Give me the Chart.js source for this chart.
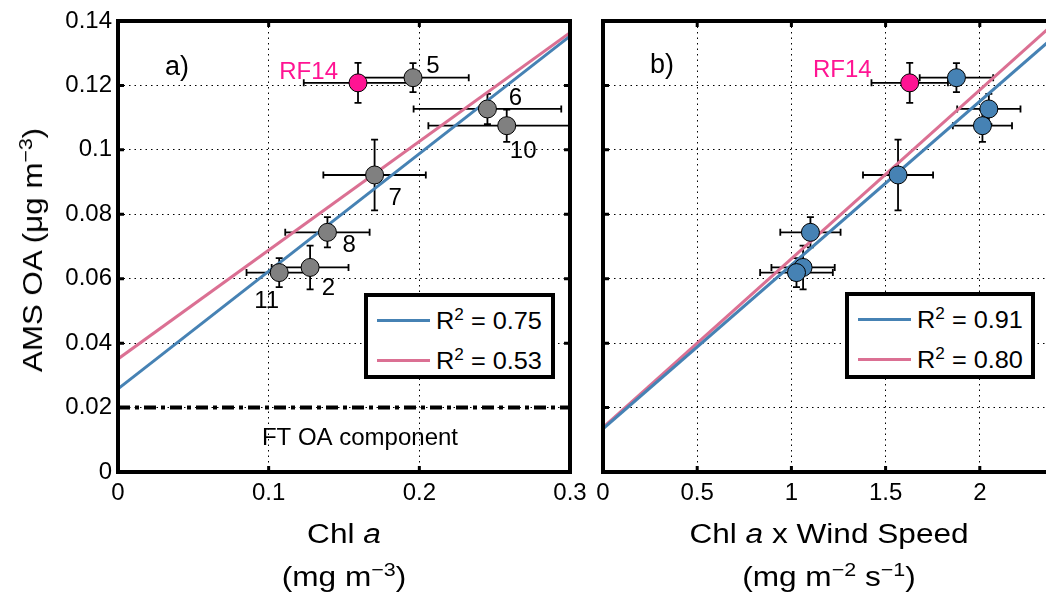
<!DOCTYPE html>
<html>
<head>
<meta charset="utf-8">
<script src="https://cdn.jsdelivr.net/npm/chart.js@4.4.1/dist/chart.umd.min.js"></script>
<style>
  body { margin: 0; background: #fff; }
  #wrap { position: relative; width: 1046px; height: 596px; overflow: hidden; background: #fff;
          font-family: 'Liberation Sans', Arial, sans-serif; color: #000; }
  canvas { position: absolute; top: 0; }
  #chartA { left: 0; }
  #chartB { left: 580px; }
  .title { position: absolute; font-size: 27px; line-height: 28px; white-space: nowrap;
           transform: translate(-50%, 0) scaleX(1.17); }
  .ytitle { position: absolute; left: 33px; top: 250px; font-size: 27px; line-height: 28px; white-space: nowrap;
            transform: translate(-50%, -50%) rotate(-90deg) scaleX(1.16); }
  sup { font-size: 0.68em; vertical-align: 0.55em; line-height: 0; }
  .panel { position: absolute; font-size: 27px; line-height: 30px; transform: translate(-50%, -50%); }
  .legend { position: absolute; background: #fff; border: 4px solid #000; box-sizing: border-box; }
  .row { position: absolute; left: 0; height: 32px; width: 100%; }
  .sw { position: absolute; left: 9px; top: 14px; width: 53px; height: 3px; }
  .lt { position: absolute; left: 68px; top: 2px; font-size: 23px; line-height: 28px; white-space: nowrap;
        transform-origin: left center; transform: scaleX(1.1); }
</style>
</head>
<body>
<div id="wrap">
  <canvas id="chartA" width="600" height="596"></canvas>
  <canvas id="chartB" width="520" height="596"></canvas>

  <div class="ytitle">AMS OA (μg m<sup>−3</sup>)</div>
  <div class="title" style="left:344px; top:520px">Chl <i>a</i></div>
  <div class="title" style="left:344px; top:563px">(mg m<sup>−3</sup>)</div>
  <div class="title" style="left:829px; top:520px">Chl <i>a</i> x Wind Speed</div>
  <div class="title" style="left:829px; top:563px">(mg m<sup>−2</sup> s<sup>−1</sup>)</div>

  <div class="panel" style="left:177px; top:66px">a)</div>
  <div class="panel" style="left:662px; top:64px">b)</div>

  <div class="legend" style="left:364px; top:293px; width:191px; height:86px">
    <div class="row" style="top:8px"><span class="sw" style="background:#4682b4"></span><span class="lt">R<sup>2</sup> = 0.75</span></div>
    <div class="row" style="top:48px"><span class="sw" style="background:#db7093"></span><span class="lt">R<sup>2</sup> = 0.53</span></div>
  </div>
  <div class="legend" style="left:845px; top:292px; width:190px; height:87px">
    <div class="row" style="top:8px"><span class="sw" style="background:#4682b4"></span><span class="lt">R<sup>2</sup> = 0.91</span></div>
    <div class="row" style="top:48px"><span class="sw" style="background:#db7093"></span><span class="lt">R<sup>2</sup> = 0.80</span></div>
  </div>
</div>

<script>
// flights (research flight numbers) and their values
const flights = ['5', '6', '10', '7', '8', '2', '11'];
const chlA = [0.1958, 0.2452, 0.2580, 0.1703, 0.1390, 0.1275, 0.1070];
const chlAErr = [0.037, 0.049, 0.052, 0.034, 0.028, 0.0255, 0.0217];
const chlWind = [1.876, 2.048, 2.014, 1.566, 1.101, 1.062, 1.027];
const chlWindErr = [0.195, 0.168, 0.157, 0.186, 0.160, 0.168, 0.193];
const amsOA = [0.1224, 0.1127, 0.1075, 0.0922, 0.0744, 0.0635, 0.0619];
const amsOAErr = [0.0045, 0.0047, 0.0050, 0.0110, 0.0047, 0.0068, 0.0045];

// RF14 outlier
const rf14ChlA = 0.1593, rf14ChlAErr = 0.036;
const rf14ChlWind = 1.628, rf14ChlWindErr = 0.203;
const rf14OA = 0.1208, rf14OAErr = 0.0062;

// fit lines (end points)
const fitAx = [0, 0.3];
const fitABlue = [0.0258, 0.1353];
const fitAPink = [0.0351, 0.1364];
const fitBx = [0, 2.5];
const fitBBlue = [0.0134, 0.1405];
const fitBPink = [0.0138, 0.1448];
const ftLevel = 0.02;

// axes
const yTicks = [0, 0.02, 0.04, 0.06, 0.08, 0.1, 0.12, 0.14];
const yTickLabels = ['0', '0.02', '0.04', '0.06', '0.08', '0.1', '0.12', '0.14'];
const xTicksA = [0, 0.1, 0.2, 0.3];
const xTickLabelsA = ['0', '0.1', '0.2', '0.3'];
const xTicksB = [0, 0.5, 1, 1.5, 2, 2.5];
const xTickLabelsB = ['0', '0.5', '1', '1.5', '2', '2.5'];

// flight number labels next to points in panel a
const labelX = [0.209, 0.2638, 0.2689, 0.184, 0.1535, 0.1397, 0.0987];
const labelY = [0.1258, 0.1159, 0.0994, 0.085, 0.0705, 0.0571, 0.0529];

const FONT = "'Liberation Sans', Arial, sans-serif";
const BLUE = '#4682b4';
const PINK = '#db7093';
const MAGENTA = '#ff1493';

Chart.defaults.font.family = FONT;
Chart.defaults.color = '#000';

const errorBars = {
  id: 'errorBars',
  beforeDatasetsDraw(chart) {
    const ctx = chart.ctx;
    const a = chart.chartArea;
    const xs = chart.scales.x, ys = chart.scales.y;
    ctx.save();
    ctx.beginPath();
    ctx.rect(a.left, a.top, a.right - a.left, a.bottom - a.top);
    ctx.clip();
    ctx.strokeStyle = '#000';
    ctx.lineWidth = 1.8;
    chart.data.datasets.forEach(ds => {
      if (!ds.xErr) return;
      ds.data.forEach((p, i) => {
        const px = xs.getPixelForValue(p.x), py = ys.getPixelForValue(p.y);
        const x0 = xs.getPixelForValue(p.x - ds.xErr[i]), x1 = xs.getPixelForValue(p.x + ds.xErr[i]);
        const y0 = ys.getPixelForValue(p.y - ds.yErr[i]), y1 = ys.getPixelForValue(p.y + ds.yErr[i]);
        const c = 3.5;
        ctx.beginPath();
        ctx.moveTo(x0, py); ctx.lineTo(x1, py);
        ctx.moveTo(x0, py - c); ctx.lineTo(x0, py + c);
        ctx.moveTo(x1, py - c); ctx.lineTo(x1, py + c);
        ctx.moveTo(px, y0); ctx.lineTo(px, y1);
        ctx.moveTo(px - c, y0); ctx.lineTo(px + c, y0);
        ctx.moveTo(px - c, y1); ctx.lineTo(px + c, y1);
        ctx.stroke();
      });
    });
    ctx.restore();
  }
};

const frame = {
  id: 'frame',
  afterDraw(chart) {
    const ctx = chart.ctx;
    const a = chart.chartArea;
    ctx.save();
    ctx.strokeStyle = '#000';
    ctx.lineWidth = 3;
    ctx.beginPath();
    chart.scales.x.ticks.forEach(t => {
      const px = chart.scales.x.getPixelForValue(t.value);
      ctx.moveTo(px, a.bottom); ctx.lineTo(px, a.bottom - 6);
      ctx.moveTo(px, a.top); ctx.lineTo(px, a.top + 6);
    });
    chart.scales.y.ticks.forEach(t => {
      const py = chart.scales.y.getPixelForValue(t.value);
      ctx.moveTo(a.left, py); ctx.lineTo(a.left + 6, py);
      ctx.moveTo(a.right, py); ctx.lineTo(a.right - 6, py);
    });
    ctx.stroke();
    ctx.lineWidth = 4;
    ctx.strokeRect(a.left, a.top, a.right - a.left, a.bottom - a.top);
    ctx.restore();
  }
};

const annot = {
  id: 'annot',
  afterDatasetsDraw(chart, args, opts) {
    const ctx = chart.ctx;
    const xs = chart.scales.x, ys = chart.scales.y;
    ctx.save();
    ctx.textBaseline = 'middle';
    (opts.items || []).forEach(it => {
      ctx.font = it.size + 'px ' + FONT;
      ctx.fillStyle = it.color || '#000';
      ctx.textAlign = it.align || 'center';
      ctx.fillText(it.text, xs.getPixelForValue(it.x), ys.getPixelForValue(it.y));
    });
    ctx.restore();
  }
};

function points(xv, yv) {
  return xv.map((v, i) => ({ x: v, y: yv[i] }));
}

function makeChart(id, cfg) {
  return new Chart(document.getElementById(id), {
    type: 'scatter',
    data: {
      datasets: [
        { type: 'line', data: points(cfg.fitX, cfg.fitBlue), borderColor: BLUE, borderWidth: 3,
          pointRadius: 0, fill: false, order: 3 },
        { type: 'line', data: points(cfg.fitX, cfg.fitPink), borderColor: PINK, borderWidth: 3,
          pointRadius: 0, fill: false, order: 4 },
        ...cfg.extra,
        { data: points(cfg.xVals, amsOA), xErr: cfg.xErr, yErr: amsOAErr,
          backgroundColor: cfg.markerColor, borderColor: '#000', borderWidth: 1, pointRadius: 9, order: 1 },
        { data: [{ x: cfg.rfX, y: rf14OA }], xErr: [cfg.rfXErr], yErr: [rf14OAErr],
          backgroundColor: MAGENTA, borderColor: '#000', borderWidth: 1, pointRadius: 9, order: 0 }
      ]
    },
    options: {
      responsive: false,
      animation: false,
      devicePixelRatio: 1,
      layout: { padding: { left: 0, top: 21, right: cfg.padRight, bottom: 0 } },
      plugins: {
        legend: { display: false },
        tooltip: { enabled: false },
        annot: { items: cfg.labels }
      },
      scales: {
        x: {
          type: 'linear', min: 0, max: cfg.xMax,
          afterFit(s) { s.height = 124; },
          afterBuildTicks(s) { s.ticks = cfg.xTicks.map(v => ({ value: v })); },
          ticks: { callback: (v, i) => cfg.xTickLabels[i], padding: 7, font: { size: 24 },
                   maxRotation: 0, autoSkip: false },
          grid: { color: '#000', lineWidth: 1, drawTicks: false },
          border: { display: false, dash: [1.5, 4] }
        },
        y: {
          type: 'linear', min: 0, max: 0.14,
          afterFit(s) { s.width = cfg.yWidth; },
          afterBuildTicks(s) { s.ticks = yTicks.map(v => ({ value: v })); },
          ticks: { display: cfg.showY, callback: (v, i) => yTickLabels[i], padding: 6, font: { size: 24 } },
          grid: { color: '#000', lineWidth: 1, drawTicks: false },
          border: { display: false, dash: [1.5, 4] }
        }
      }
    },
    plugins: [errorBars, frame, annot]
  });
}

const labelsA = flights.map((f, i) => ({ text: f, x: labelX[i], y: labelY[i], size: 24 }));
labelsA.push({ text: 'RF14', x: 0.146, y: 0.1242, size: 24, color: MAGENTA, align: 'right' });
labelsA.push({ text: 'FT OA component', x: 0.1606, y: 0.0103, size: 24 });

makeChart('chartA', {
  xVals: chlA, xErr: chlAErr, rfX: rf14ChlA, rfXErr: rf14ChlAErr,
  fitX: fitAx, fitBlue: fitABlue, fitPink: fitAPink,
  xMax: 0.3, xTicks: xTicksA, xTickLabels: xTickLabelsA,
  yWidth: 118, showY: true, padRight: 30, markerColor: '#808080',
  labels: labelsA,
  extra: [
    { type: 'line', data: points(fitAx, [ftLevel, ftLevel]), borderColor: '#000', borderWidth: 4,
      borderDash: [12, 5, 4, 5], pointRadius: 0, fill: false, order: 2 }
  ]
});

makeChart('chartB', {
  xVals: chlWind, xErr: chlWindErr, rfX: rf14ChlWind, rfXErr: rf14ChlWindErr,
  fitX: fitBx, fitBlue: fitBBlue, fitPink: fitBPink,
  xMax: 2.5, xTicks: xTicksB, xTickLabels: xTickLabelsB,
  yWidth: 23, showY: false, padRight: 26, markerColor: BLUE,
  labels: [{ text: 'RF14', x: 1.426, y: 0.1246, size: 24, color: MAGENTA, align: 'right' }],
  extra: []
});
</script>
</body>
</html>
